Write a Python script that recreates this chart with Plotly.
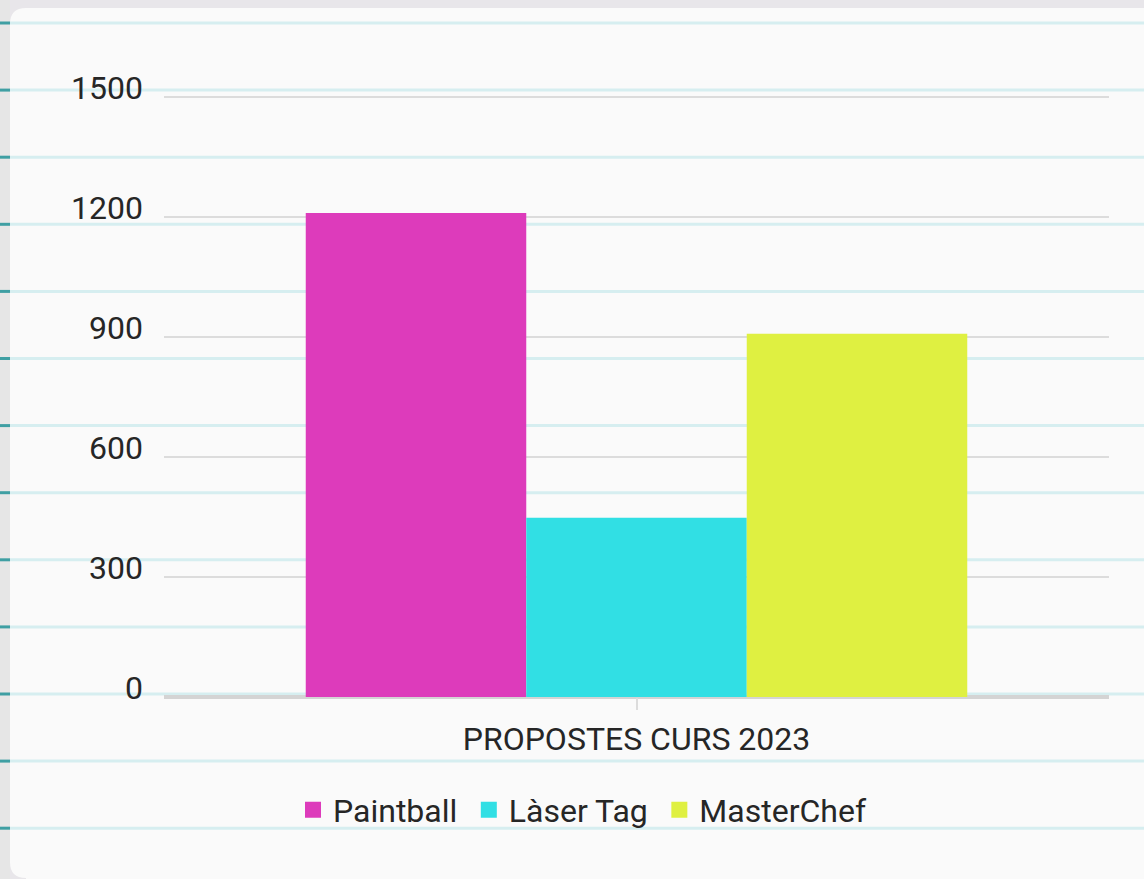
import plotly.graph_objects as go

categories = ["PROPOSTES CURS 2023"]
series_names = ["Paintball", "Làser Tag", "MasterChef"]
paintball = [1210]
laser_tag = [448]
masterchef = [908]
series_values = [paintball, laser_tag, masterchef]
series_colors = ["#dd3bbb", "#31dfe4", "#dff041"]
y_ticks = [0, 300, 600, 900, 1200, 1500]
y_max = 1510

W, H = 1144, 879
L, R, T, B = 164, 1109, 93, 697  # plot area in pixels


def px(x):
    return (x - L) / (R - L)


def py(y):
    return (B - y) / (B - T)


fig = go.Figure()
for name, vals, col in zip(series_names, series_values, series_colors):
    fig.add_trace(go.Bar(name=name, x=categories, y=vals, legendgroup=name, showlegend=False,
                         marker=dict(color=col, line=dict(width=0))))
# legend entries with larger square swatches
for name, col in zip(series_names, series_colors):
    fig.add_trace(go.Scatter(name=name + "\u2009", x=[None], y=[None], mode="markers", legendgroup=name,
                             marker=dict(symbol="square", size=20, color=col), showlegend=True))

shapes = []
# card with rounded left corners
r = 16
cx0, cy0, cy1, cx1 = 10, 8, 878, W + 20
path = (
    f"M {px(cx0)},{py(cy0 + r)} Q {px(cx0)},{py(cy0)} {px(cx0 + r)},{py(cy0)} "
    f"L {px(cx1)},{py(cy0)} L {px(cx1)},{py(H + 20)} L {px(cx0 + r)},{py(H + 20)} "
    f"L {px(cx0 + r)},{py(cy1)} Q {px(cx0)},{py(cy1)} {px(cx0)},{py(cy1 - r)} Z"
)
shapes.append(dict(type="path", xref="paper", yref="paper", path=path,
                   fillcolor="#fafafa", line=dict(width=0), layer="below"))
# left grey strip
shapes.append(dict(type="rect", xref="paper", yref="paper", x0=px(-5), x1=px(10), y0=py(-5), y1=py(H + 10),
                   fillcolor="#e6e6e6", line=dict(width=0), layer="below"))
# notebook lines
for k in range(13):
    yy = 23 + 67.1 * k
    shapes.append(dict(type="line", xref="paper", yref="paper", x0=px(10), x1=px(W + 10), y0=py(yy), y1=py(yy),
                       line=dict(color="#d6eef0", width=3), layer="below"))
    shapes.append(dict(type="line", xref="paper", yref="paper", x0=px(-5), x1=px(10), y0=py(yy), y1=py(yy),
                       line=dict(color="#3f9fa3", width=3), layer="below"))

fig.update_layout(
    width=W, height=H,
    margin=dict(l=L, r=W - R, t=T, b=H - B, autoexpand=False),
    paper_bgcolor="#e8e6ea",
    plot_bgcolor="rgba(0,0,0,0)",
    font=dict(family="Roboto", size=32, color="#262626"),
    barmode="group", bargap=0.3, bargroupgap=0,
    shapes=shapes,
    showlegend=True,
    legend=dict(orientation="h", x=px(293), xanchor="left", y=py(810), yanchor="middle",
                bgcolor="rgba(0,0,0,0)", font=dict(size=32, color="#262626"),
                itemwidth=30, tracegroupgap=0),
    xaxis=dict(showgrid=False, ticks="outside", ticklen=12, tickcolor="#dcdcdc", tickwidth=2,
               tickfont=dict(size=32, color="#262626"), ticklabelstandoff=2, showline=False),
    yaxis=dict(range=[0, y_max], tickvals=y_ticks, showgrid=True, gridcolor="#dcdcdc", gridwidth=2,
               zeroline=True, zerolinecolor="#d4d4d4", zerolinewidth=4,
               tickfont=dict(size=32, color="#262626"), ticks="", ticklabelstandoff=20,
               ticklabelshift=-9, showline=False),
)

fig.write_html("out.html", config={"displayModeBar": False},
               post_script="document.body.style.margin='0';document.body.style.background='#e8e6ea';")
